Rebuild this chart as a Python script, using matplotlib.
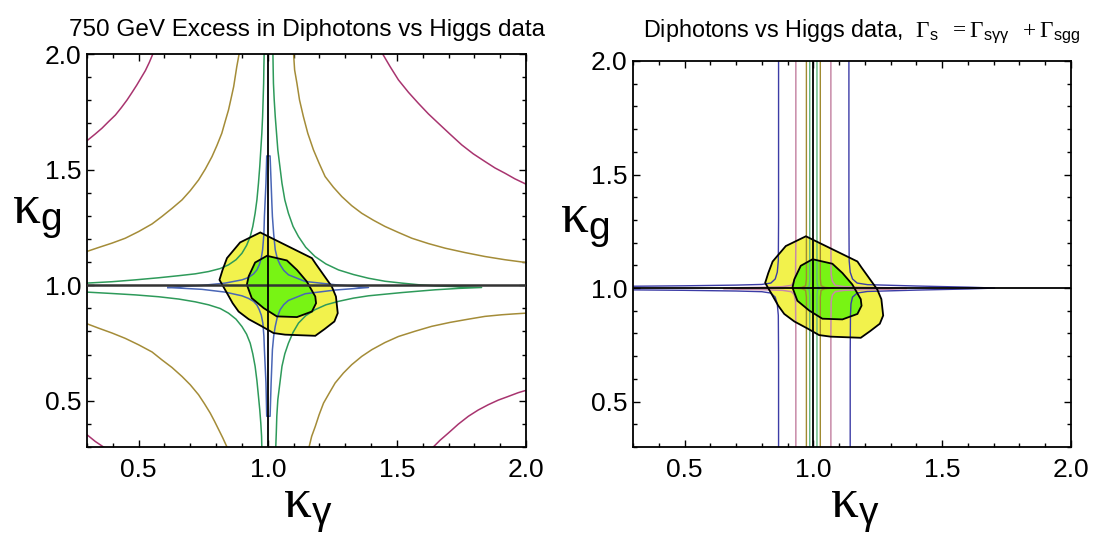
import matplotlib
matplotlib.use("Agg")
import matplotlib.pyplot as plt
from matplotlib.ticker import MultipleLocator

plt.rcParams['font.family'] = ['Liberation Sans', 'DejaVu Sans']
plt.rcParams['mathtext.fontset'] = 'custom'
plt.rcParams['mathtext.rm'] = 'Liberation Serif'
plt.rcParams['mathtext.it'] = 'Liberation Serif:italic'
plt.rcParams['mathtext.sf'] = 'Liberation Sans'

# ---- best-fit regions (same in both panels) ----
yellow_x = [0.971, 1.171, 1.186, 1.248, 1.264, 1.271, 1.258, 1.220, 1.184, 1.067,
            1.022, 0.977, 0.926, 0.887, 0.864, 0.842, 0.813, 0.825, 0.842, 0.893]
yellow_y = [1.228, 1.117, 1.092, 0.994, 0.951, 0.879, 0.843, 0.810, 0.781, 0.786,
            0.793, 0.822, 0.853, 0.886, 0.922, 0.966, 1.023, 1.066, 1.117, 1.185]
green_x = [0.997, 1.074, 1.113, 1.151, 1.184, 1.187, 1.171, 1.113, 1.035, 0.984,
           0.938, 0.919, 0.926, 0.951]
green_y = [1.127, 1.107, 1.066, 1.016, 0.951, 0.922, 0.886, 0.862, 0.865, 0.901,
           0.944, 1.002, 1.038, 1.098]

# ---- left panel contour lines ----
mag_tl_x = [0.300, 0.332, 0.358, 0.384, 0.410, 0.433, 0.455, 0.474, 0.493, 0.510, 0.526, 0.541, 0.555]
mag_tl_y = [1.625, 1.654, 1.679, 1.708, 1.736, 1.768, 1.801, 1.833, 1.866, 1.898, 1.928, 1.963, 2.000]
mag_tr_x = [1.445, 1.474, 1.506, 1.545, 1.583, 1.622, 1.661, 1.706, 1.751, 1.796, 1.841, 1.880, 1.919, 1.957, 2.000]
mag_tr_y = [2.000, 1.945, 1.888, 1.834, 1.787, 1.741, 1.700, 1.653, 1.607, 1.568, 1.535, 1.507, 1.484, 1.460, 1.437]
mag_bl_x = [0.300, 0.332, 0.364]
mag_bl_y = [0.353, 0.324, 0.300]
mag_br_x = [1.641, 1.667, 1.699, 1.738, 1.777, 1.815, 1.854, 1.893, 1.932, 1.970, 2.000]
mag_br_y = [0.300, 0.329, 0.360, 0.399, 0.433, 0.460, 0.483, 0.503, 0.519, 0.535, 0.545]

oli_tl_x = [0.300, 0.345, 0.397, 0.448, 0.500, 0.552, 0.590, 0.629, 0.668, 0.700, 0.732,
            0.758, 0.784, 0.803, 0.822, 0.835, 0.848, 0.858, 0.868, 0.874, 0.880, 0.889]
oli_tl_y = [1.146, 1.163, 1.182, 1.203, 1.232, 1.265, 1.297, 1.332, 1.369, 1.409, 1.455,
            1.502, 1.556, 1.604, 1.657, 1.708, 1.758, 1.808, 1.859, 1.902, 1.945, 2.000]
oli_tr_x = [1.100, 1.104, 1.113, 1.123, 1.138, 1.155, 1.177, 1.199, 1.222, 1.254, 1.287, 1.325,
            1.364, 1.409, 1.454, 1.506, 1.558, 1.622, 1.687, 1.764, 1.841, 1.919, 2.000]
oli_tr_y = [2.000, 1.931, 1.873, 1.801, 1.729, 1.657, 1.585, 1.527, 1.470, 1.424, 1.383, 1.344,
            1.311, 1.281, 1.254, 1.228, 1.203, 1.180, 1.160, 1.141, 1.124, 1.110, 1.098]
oli_bl_x = [0.300, 0.345, 0.397, 0.448, 0.500, 0.552, 0.590, 0.629, 0.668, 0.700, 0.732,
            0.755, 0.777, 0.794, 0.810, 0.826, 0.842]
oli_bl_y = [0.833, 0.814, 0.793, 0.770, 0.742, 0.711, 0.677, 0.644, 0.605, 0.569, 0.526,
            0.487, 0.447, 0.411, 0.375, 0.339, 0.300]
oli_br_x = [1.160, 1.170, 1.184, 1.199, 1.216, 1.238, 1.261, 1.293, 1.325, 1.364, 1.403,
            1.454, 1.506, 1.571, 1.635, 1.706, 1.777, 1.841, 1.906, 1.957, 2.000]
oli_br_y = [0.300, 0.346, 0.389, 0.440, 0.490, 0.533, 0.577, 0.620, 0.656, 0.692, 0.721,
            0.752, 0.778, 0.801, 0.822, 0.839, 0.853, 0.865, 0.872, 0.876, 0.879]

grn_tl_x = [0.300, 0.397, 0.487, 0.577, 0.655, 0.719, 0.771, 0.816, 0.848, 0.877, 0.900, 0.918, 0.932,
            0.942, 0.951, 0.958, 0.964, 0.969, 0.973, 0.977, 0.980, 0.982, 0.984, 0.985, 0.986]
grn_tl_y = [1.009, 1.015, 1.023, 1.032, 1.041, 1.049, 1.059, 1.072, 1.088, 1.110, 1.138, 1.172, 1.210,
            1.254, 1.311, 1.369, 1.441, 1.513, 1.585, 1.657, 1.729, 1.801, 1.873, 1.945, 2.000]
grn_bl_x = [0.300, 0.397, 0.487, 0.577, 0.655, 0.719, 0.771, 0.816, 0.848, 0.877, 0.900,
            0.918, 0.932, 0.942, 0.951, 0.958, 0.964, 0.969, 0.973, 0.976, 0.977]
grn_bl_y = [0.970, 0.964, 0.958, 0.950, 0.940, 0.928, 0.915, 0.899, 0.879, 0.853, 0.821,
            0.788, 0.749, 0.703, 0.649, 0.587, 0.519, 0.461, 0.404, 0.346, 0.300]
grn_r_x = [1.020, 1.021, 1.022, 1.025, 1.029, 1.034, 1.039, 1.047, 1.055, 1.066, 1.080, 1.098,
           1.119, 1.147, 1.183, 1.225, 1.274, 1.332, 1.390, 1.454, 1.519, 1.583, 1.648, 1.738,
           1.828,
           1.738, 1.648, 1.583, 1.519, 1.454, 1.390, 1.332, 1.274, 1.225, 1.183, 1.147, 1.119,
           1.098, 1.080, 1.066, 1.055, 1.047, 1.039, 1.035, 1.033, 1.031]
grn_r_y = [2.000, 1.931, 1.873, 1.801, 1.729, 1.657, 1.585, 1.513, 1.441, 1.369, 1.311, 1.254,
           1.210, 1.164, 1.124, 1.092, 1.066, 1.046, 1.030, 1.017, 1.009, 1.002, 0.997, 0.993,
           0.990,
           0.986, 0.980, 0.974, 0.968, 0.961, 0.954, 0.944, 0.930, 0.915, 0.894, 0.868, 0.836,
           0.796, 0.749, 0.703, 0.649, 0.577, 0.505, 0.433, 0.361, 0.300]

blu_x = [0.613, 0.680, 0.745, 0.835, 0.900, 0.925, 0.945, 0.958, 0.967, 0.975, 0.980, 0.985,
         0.987, 0.993, 0.996,
         1.009, 1.013, 1.016, 1.018, 1.023, 1.029, 1.037, 1.048, 1.062, 1.080, 1.145, 1.261, 1.390,
         1.261, 1.145, 1.080, 1.062, 1.048, 1.037, 1.029, 1.023, 1.018, 1.013, 1.009,
         0.996, 0.993, 0.987, 0.985, 0.981, 0.975, 0.967, 0.958, 0.945, 0.925, 0.900, 0.835,
         0.745, 0.680, 0.613]
blu_y = [0.990, 0.995, 0.999, 1.009, 1.023, 1.033, 1.049, 1.066, 1.088, 1.118, 1.153, 1.220,
         1.297, 1.441, 1.559,
         1.559, 1.441, 1.350, 1.297, 1.220, 1.153, 1.115, 1.088, 1.064, 1.045, 1.016, 1.002, 0.990,
         0.979, 0.963, 0.934, 0.916, 0.894, 0.862, 0.822, 0.780, 0.721, 0.577, 0.433,
         0.433, 0.577, 0.721, 0.780, 0.836, 0.870, 0.894, 0.914, 0.930, 0.943, 0.954, 0.970,
         0.982, 0.986, 0.990]

# ---- right panel contour lines ----
rb_ul_x = [0.300, 0.500, 0.700, 0.800, 0.835, 0.852, 0.860, 0.864, 0.865, 0.865]
rb_ul_y = [1.008, 1.010, 1.013, 1.016, 1.022, 1.040, 1.070, 1.120, 1.300, 2.000]
rb_ll_x = [0.300, 0.500, 0.700, 0.800, 0.835, 0.852, 0.860, 0.864, 0.865, 0.865]
rb_ll_y = [0.992, 0.990, 0.987, 0.984, 0.978, 0.960, 0.930, 0.880, 0.700, 0.300]
rb_r_x = [1.138, 1.138, 1.139, 1.143, 1.152, 1.170, 1.210, 1.400, 1.600, 1.704,
          1.600, 1.400, 1.210, 1.170, 1.152, 1.146, 1.144, 1.143, 1.143]
rb_r_y = [2.000, 1.300, 1.120, 1.070, 1.040, 1.022, 1.015, 1.009, 1.004, 1.000,
          0.996, 0.991, 0.985, 0.978, 0.960, 0.930, 0.880, 0.700, 0.300]

rp_l_x = [0.932, 0.932, 0.931, 0.926, 0.915, 0.880, 0.800, 0.700, 0.651,
          0.700, 0.800, 0.880, 0.915, 0.926, 0.931, 0.932, 0.932]
rp_l_y = [2.000, 1.200, 1.060, 1.030, 1.012, 1.006, 1.003, 1.001, 0.998,
          0.995, 0.993, 0.990, 0.984, 0.970, 0.940, 0.800, 0.300]
rp_r_x = [1.068, 1.068, 1.069, 1.074, 1.085, 1.120, 1.200, 1.300, 1.362,
          1.300, 1.200, 1.120, 1.085, 1.074, 1.069, 1.068, 1.068]
rp_r_y = rp_l_y

ro_l_x = [0.973, 0.973, 0.970, 0.955, 0.920, 0.955, 0.970, 0.973, 0.973]
ro_l_y = [2.000, 1.040, 1.010, 1.003, 1.000, 0.997, 0.990, 0.960, 0.300]
ro_r_x = [1.027, 1.027, 1.030, 1.045, 1.080, 1.045, 1.030, 1.027, 1.027]
ro_r_y = ro_l_y

rg_l_x = [0.986, 0.986, 0.984, 0.975, 0.960, 0.975, 0.984, 0.986, 0.986]
rg_l_y = [2.000, 1.030, 1.008, 1.002, 1.000, 0.998, 0.992, 0.970, 0.300]
rg_r_x = [1.014, 1.014, 1.016, 1.025, 1.040, 1.025, 1.016, 1.014, 1.014]
rg_r_y = rg_l_y

YELLOW = '#f2f24c'
LIME = '#78f414'
MAG = '#a8346f'
OLIVE = '#a48c38'
GREEN = '#2e9a5a'
BLUE = '#4a66b6'
R_BLUE = '#3c3ca6'
R_PINK = '#c88aa8'
R_OLIVE = '#a08a30'
R_GREEN = '#62b882'

W, H = 1093, 536
fig = plt.figure(figsize=(W / 100, H / 100), dpi=100)
ax1 = fig.add_axes([87 / W, 1 - 447 / H, 439 / W, 393 / H])
ax2 = fig.add_axes([633 / W, 1 - 447 / H, 438 / W, 386 / H])


def draw_blobs(ax):
    ax.fill(yellow_x, yellow_y, color=YELLOW, lw=0, zorder=1)
    ax.fill(green_x, green_y, color=LIME, lw=0, zorder=1.1)


def draw_blob_edges(ax):
    ax.fill(yellow_x, yellow_y, fc='none', ec='black', lw=1.3, zorder=3)
    ax.fill(green_x, green_y, fc='none', ec='black', lw=1.3, zorder=3)


def style_axes(ax):
    ax.set_xlim(0.3, 2.0)
    ax.set_ylim(0.3, 2.0)
    ax.xaxis.set_major_locator(MultipleLocator(0.5))
    ax.yaxis.set_major_locator(MultipleLocator(0.5))
    ax.xaxis.set_minor_locator(MultipleLocator(0.1))
    ax.yaxis.set_minor_locator(MultipleLocator(0.1))
    ax.tick_params(which='both', direction='in', top=True, right=True, width=1.0)
    ax.tick_params(which='major', length=5, labelsize=19)
    ax.tick_params(which='minor', length=3)
    ax.tick_params(axis='x', pad=8)
    ax.tick_params(axis='y', pad=4)
    for s in ax.spines.values():
        s.set_linewidth(1.3)
    ax.axvline(1.0, color='black', lw=1.3, zorder=4)


# left panel
draw_blobs(ax1)
for xs, ys in [(mag_tl_x, mag_tl_y), (mag_tr_x, mag_tr_y), (mag_bl_x, mag_bl_y), (mag_br_x, mag_br_y)]:
    ax1.plot(xs, ys, color=MAG, lw=1.1, zorder=2)
for xs, ys in [(oli_tl_x, oli_tl_y), (oli_tr_x, oli_tr_y), (oli_bl_x, oli_bl_y), (oli_br_x, oli_br_y)]:
    ax1.plot(xs, ys, color=OLIVE, lw=1.1, zorder=2)
for xs, ys in [(grn_tl_x, grn_tl_y), (grn_bl_x, grn_bl_y), (grn_r_x, grn_r_y)]:
    ax1.plot(xs, ys, color=GREEN, lw=1.1, zorder=2)
ax1.plot(blu_x, blu_y, color=BLUE, lw=1.1, zorder=2)
draw_blob_edges(ax1)
ax1.axhline(1.0, color='#333333', lw=1.8, zorder=4)
style_axes(ax1)

# right panel
draw_blobs(ax2)
for xs, ys in [(rb_ul_x, rb_ul_y), (rb_ll_x, rb_ll_y), (rb_r_x, rb_r_y)]:
    ax2.plot(xs, ys, color=R_BLUE, lw=1.0, zorder=2)
for xs, ys in [(rp_l_x, rp_l_y), (rp_r_x, rp_r_y)]:
    ax2.plot(xs, ys, color=R_PINK, lw=1.1, zorder=2)
for xs, ys in [(ro_l_x, ro_l_y), (ro_r_x, ro_r_y)]:
    ax2.plot(xs, ys, color=R_OLIVE, lw=1.0, zorder=2)
for xs, ys in [(rg_l_x, rg_l_y), (rg_r_x, rg_r_y)]:
    ax2.plot(xs, ys, color=R_GREEN, lw=1.0, zorder=2)
draw_blob_edges(ax2)
ax2.axhline(1.0, color='black', lw=1.3, zorder=4)
style_axes(ax2)

# titles
fig.text(307 / W, 1 - 36 / H, '750 GeV Excess in Diphotons vs Higgs data',
         ha='center', va='baseline', fontsize=17.5)
fig.text(862 / W, 1 - 37 / H,
         r'Diphotons vs Higgs data,  $\mathrm{\Gamma}_{\mathsf{s}}\ \ =\mathrm{\Gamma}_{\mathsf{s\gamma\gamma}}\ \ +\mathrm{\Gamma}_{\mathsf{sgg}}$',
         ha='center', va='baseline', fontsize=16.8)

# axis labels
KX = r'$\mathrm{\kappa}_{\mathsf{\gamma}}$'
KY = r'$\mathrm{\kappa}_{\mathsf{g}}$'
fig.text(308 / W, 1 - 517 / H, KX, ha='center', va='baseline', fontsize=40)
fig.text(855 / W, 1 - 517 / H, KX, ha='center', va='baseline', fontsize=40)
fig.text(12 / W, 1 - 223 / H, KY, ha='left', va='baseline', fontsize=40)
fig.text(560 / W, 1 - 232 / H, KY, ha='left', va='baseline', fontsize=40)

fig.savefig('out.png', dpi=100)
